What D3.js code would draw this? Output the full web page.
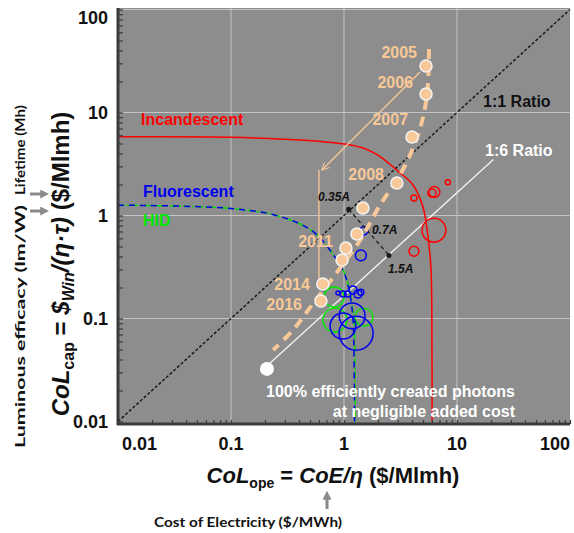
<!doctype html>
<html lang="en">
<head>
  <meta charset="utf-8">
  <title>Cost of light</title>
  <script src="https://cdn.jsdelivr.net/npm/d3@7/dist/d3.min.js"></script>
</head>
<body style="margin: 0; background: #fff;">
<script>
// ---- data ----
const tickValues = [0.01, 0.1, 1, 10, 100];
const tickLabels = ["0.01", "0.1", "1", "10", "100"];
const gridValues = [0.1, 1, 10];

// [CoL_ope, CoL_cap]
const incandescent = [[0.01, 5.8], [0.1, 5.75], [0.3, 5.5], [0.6, 5.25], [1, 4.95], [1.5, 4.5], [2.0, 3.85],
  [2.5, 3.2], [3.0, 2.7], [4.08, 1.98], [5.0, 1.21], [5.54, 0.62], [5.89, 0.3], [6.0, 0.06], [6.02, 0.01]];
const fluorescent = [[0.01, 1.26], [0.1, 1.17], [0.27, 0.98], [0.53, 0.70], [0.8, 0.42], [1.0, 0.28],
  [1.12, 0.18], [1.2, 0.1], [1.23, 0.03], [1.24, 0.01]];
const hid = [[0.01, 1.26], [0.1, 1.17], [0.27, 0.98], [0.53, 0.70], [0.8, 0.42], [1.02, 0.27],
  [1.14, 0.17], [1.22, 0.1], [1.25, 0.03], [1.26, 0.01]];

// LED points, years
const ledX = [5.32, 5.32, 4.0, 2.94, 1.47, 1.30, 1.04, 0.96, 0.65, 0.625];
const ledY = [28.3, 15.1, 5.78, 2.07, 1.18, 0.66, 0.483, 0.37, 0.216, 0.148];
const ledYears = ["2005", "2006", "2007", "2008", "", "", "2011", "", "2014", "2016"];
const ledTrend = [[5.65, 41.3], [5.43, 14.8], [4.52, 6.05], [3.13, 2.47], [2.08, 1.26], [1.39, 0.578],
  [0.83, 0.264], [0.52, 0.135], [0.354, 0.0773], [0.236, 0.0494]];
const ledArrow = [[4.71, 24.7], [0.638, 2.77]];
const ledDrop = [[0.60, 2.77], [0.60, 0.236]];

// bubbles [x, y, size]
const redBubbles = [[6.25, 0.72, 70], [4.16, 0.45, 29], [4.16, 1.48, 18], [6.0, 1.65, 24], [6.3, 1.69, 32], [8.3, 2.1, 15]];
const blueBubbles = [[1.50, 0.71, 24], [1.41, 0.41, 32], [0.885, 0.177, 12], [0.98, 0.173, 18], [1.08, 0.173, 18],
  [1.20, 0.189, 24], [1.33, 0.173, 24], [1.41, 0.18, 18], [1.18, 0.106, 76], [0.98, 0.0845, 76], [1.28, 0.072, 100]];
const greenBubbles = [[0.817, 0.162, 59], [0.83, 0.0967, 70], [1.50, 0.103, 53]];

const ideal = [0.208, 0.0324];
const ratio11 = [[0.01, 0.01], [100, 100]];
const ratio16 = [[0.21, 0.035], [21, 3.5]];
const ampLine = [[1.1, 1.15], [2.5, 0.41]];

// ---- drawing ----
const W = 574, H = 533;
const font = "'Liberation Sans', Arial, sans-serif";
const peach = "#f8c898";

const svg = d3.select("body").append("svg")
  .attr("width", W).attr("height", H)
  .style("font-family", font);

const x = d3.scaleLog().domain([0.01, 100]).range([118, 570]);
const y = d3.scaleLog().domain([0.01, 100]).range([421.5, 9.5]);
const rScale = d3.scaleLinear().domain([0, 100]).range([0, 17]);

const defs = svg.append("defs");
defs.append("marker").attr("id", "peachHead")
  .attr("viewBox", "0 -5 10 10").attr("refX", 9).attr("refY", 0)
  .attr("markerWidth", 8).attr("markerHeight", 8).attr("markerUnits", "userSpaceOnUse")
  .attr("orient", "auto")
  .append("path").attr("d", "M0,-4.5L9,0L0,4.5").attr("fill", "none")
  .attr("stroke", peach).attr("stroke-width", 1.3);
defs.append("marker").attr("id", "grayHead")
  .attr("viewBox", "0 -5 10 10").attr("refX", 2).attr("refY", 0)
  .attr("markerWidth", 3).attr("markerHeight", 3)
  .attr("orient", "auto")
  .append("path").attr("d", "M0,-5L10,0L0,5Z").attr("fill", "#8a8a8a");

// plot background
svg.append("rect")
  .attr("x", 118).attr("y", 8).attr("width", 452).attr("height", 416)
  .attr("fill", "#8d8d8d");

// grid
svg.append("g").selectAll("line").data(gridValues).join("line")
  .attr("x1", d => x(d)).attr("x2", d => x(d)).attr("y1", 8).attr("y2", 424)
  .attr("stroke", "#c4c4c4").attr("stroke-width", 1);
svg.append("g").selectAll("line").data(gridValues.concat([100])).join("line")
  .attr("y1", d => y(d)).attr("y2", d => y(d)).attr("x1", 118).attr("x2", 570)
  .attr("stroke", "#c4c4c4").attr("stroke-width", 1);

const line = d3.line().x(d => x(d[0])).y(d => y(d[1]));
const smooth = d3.line().x(d => x(d[0])).y(d => y(d[1])).curve(d3.curveCatmullRom.alpha(0.5));

// 1:1 and 1:6 ratio lines
svg.append("path").attr("d", line(ratio11)).attr("fill", "none")
  .attr("stroke", "#1a1a1a").attr("stroke-width", 1.5).attr("stroke-dasharray", "3,2");
svg.append("path").attr("d", line(ratio16)).attr("fill", "none")
  .attr("stroke", "#f2f2f2").attr("stroke-width", 1.4);

// lamp curves
svg.append("path").attr("d", smooth(incandescent)).attr("fill", "none")
  .attr("stroke", "#ff0000").attr("stroke-width", 1.5);
svg.append("path").attr("d", smooth(hid)).attr("fill", "none")
  .attr("stroke", "#00e000").attr("stroke-width", 1.5).attr("stroke-dasharray", "7,2,2,2");
svg.append("path").attr("d", smooth(fluorescent)).attr("fill", "none")
  .attr("stroke", "#0000e6").attr("stroke-width", 1.5).attr("stroke-dasharray", "6,5");

// bubbles
function bubbles(data, color) {
  svg.append("g").selectAll("circle").data(data).join("circle")
    .attr("cx", d => x(d[0])).attr("cy", d => y(d[1])).attr("r", d => rScale(d[2]))
    .attr("fill", "none").attr("stroke", color).attr("stroke-width", 1.5);
}
bubbles(redBubbles, "#ff0000");
bubbles(greenBubbles, "#00e600");
bubbles(blueBubbles, "#0000ee");

// amp line
svg.append("path").attr("d", line(ampLine)).attr("fill", "none")
  .attr("stroke", "#1a1a1a").attr("stroke-width", 1.3).attr("stroke-dasharray", "4,3");
svg.append("g").selectAll("circle").data(ampLine).join("circle")
  .attr("cx", d => x(d[0])).attr("cy", d => y(d[1])).attr("r", 2.5).attr("fill", "#1a1a1a");

// LED trend + arrow
svg.append("path").attr("d", smooth(ledTrend)).attr("fill", "none")
  .attr("stroke", peach).attr("stroke-width", 4).attr("stroke-dasharray", "10,7");
svg.append("path").attr("d", line(ledArrow)).attr("fill", "none")
  .attr("stroke", peach).attr("stroke-width", 1.3).attr("marker-end", "url(#peachHead)");
svg.append("path").attr("d", line(ledDrop)).attr("fill", "none")
  .attr("stroke", peach).attr("stroke-width", 1.3);

// LED points
svg.append("g").selectAll("circle").data(ledX).join("circle")
  .attr("cx", d => x(d)).attr("cy", (d, i) => y(ledY[i])).attr("r", 6)
  .attr("fill", peach).attr("stroke", "#f4f4f4").attr("stroke-width", 1.5);

svg.append("circle").attr("cx", x(ideal[0])).attr("cy", y(ideal[1])).attr("r", 7)
  .attr("fill", "#fff");

// year labels
const yearOffset = [[-9, -8], [-13, -6], [-4, -12], [-13, -3], null, null, [-13, -1], null, [-13, 6], [-19, 9]];
ledYears.forEach((t, i) => {
  if (!t) return;
  svg.append("text").attr("x", x(ledX[i]) + yearOffset[i][0]).attr("y", y(ledY[i]) + yearOffset[i][1])
    .attr("text-anchor", "end").attr("font-size", 16).attr("font-weight", "bold")
    .attr("fill", peach).text(t);
});

// axes
const yAxis = svg.append("g").attr("transform", "translate(118,0)")
  .call(d3.axisLeft(y).tickValues(y.ticks()).tickSize(-5).tickSizeOuter(0).tickFormat(""));
const xAxis = svg.append("g").attr("transform", "translate(0,424)")
  .call(d3.axisBottom(x).tickValues(x.ticks()).tickSize(-4).tickSizeOuter(0).tickFormat(""));
[xAxis, yAxis].forEach(a => {
  a.select(".domain").attr("stroke", "#3a3a3a").attr("stroke-width", 3);
  a.selectAll(".tick line").attr("stroke", "#3a3a3a").attr("stroke-width", 1.2);
});
yAxis.select(".domain").attr("d", "M0,8V425");
xAxis.select(".domain").attr("d", "M117,0H570");

// tick labels
svg.append("g").selectAll("text").data(tickValues).join("text")
  .attr("x", (d, i) => i === 0 ? x(d) + 4 : x(d))
  .attr("y", 450)
  .attr("text-anchor", (d, i) => i === 0 ? "start" : i === 4 ? "end" : "middle")
  .attr("font-size", 18).attr("font-weight", "bold").attr("fill", "#111")
  .text((d, i) => tickLabels[i]);
svg.append("g").selectAll("text").data(tickValues).join("text")
  .attr("x", 108)
  .attr("y", d => Math.max(y(d), 18) + 6)
  .attr("text-anchor", "end")
  .attr("font-size", 18).attr("font-weight", "bold").attr("fill", "#111")
  .text((d, i) => tickLabels[i]);

// annotations
function note(p, txt, opts) {
  svg.append("text").attr("x", x(p[0])).attr("y", y(p[1]))
    .attr("text-anchor", opts.anchor || "start")
    .attr("font-size", opts.size || 16).attr("font-weight", "bold")
    .attr("font-style", opts.italic ? "italic" : "normal")
    .attr("fill", opts.color).text(txt);
}
note([0.016, 7.56], "Incandescent", {color: "#ff0000", size: 16});
note([0.01665, 1.51], "Fluorescent", {color: "#0000ee", size: 16});
note([0.01665, 0.79], "HID", {color: "#00e600", size: 16});
note([17.0, 11.3], "1:1 Ratio", {color: "#111", size: 16});
note([17.7, 3.78], "1:6 Ratio", {color: "#fff", size: 16});
note([0.589, 1.38], "0.35A", {color: "#111", size: 12, italic: true});
note([1.77, 0.66], "0.7A", {color: "#111", size: 12, italic: true});
note([2.45, 0.277], "1.5A", {color: "#111", size: 12, italic: true});
note([32.6, 0.0173], "100% efficiently created photons", {color: "#fff", size: 16, anchor: "end"});
note([32.6, 0.0111], "at negligible added cost", {color: "#fff", size: 16, anchor: "end"});

// axis titles
const xt = svg.append("text").attr("x", 333).attr("y", 483).attr("text-anchor", "middle")
  .attr("font-size", 22).attr("font-weight", "bold").attr("fill", "#111");
xt.append("tspan").attr("font-style", "italic").text("CoL");
xt.append("tspan").attr("font-size", 14).attr("dy", 5).text("ope");
xt.append("tspan").attr("dy", -5).text(" = ");
xt.append("tspan").attr("font-style", "italic").text("CoE/η");
xt.append("tspan").text(" ($/Mlmh)");

const yt = svg.append("text").attr("transform", "translate(69,264) rotate(-90)").attr("text-anchor", "middle")
  .attr("font-size", 24).attr("font-weight", "bold").attr("fill", "#111");
yt.append("tspan").attr("font-style", "italic").text("CoL");
yt.append("tspan").attr("font-size", 16).attr("dy", 5).text("cap");
yt.append("tspan").attr("dy", -5).text(" = ");
yt.append("tspan").attr("font-style", "italic").text("$");
yt.append("tspan").attr("font-style", "italic").attr("font-size", 16).attr("dy", 5).text("Win");
yt.append("tspan").attr("font-style", "italic").attr("dy", -5).text("/(η·τ)");
yt.append("tspan").text(" ($/Mlmh)");

// small notes with gray arrows
const small = "Lato, 'Open Sans', sans-serif";
svg.append("text").attr("transform", "translate(25,448) rotate(-90)")
  .attr("font-family", small).attr("font-size", 13).attr("font-weight", "bold").attr("fill", "#111")
  .attr("textLength", 243).attr("lengthAdjust", "spacingAndGlyphs")
  .text("Luminous efficacy (lm/W)");
svg.append("text").attr("transform", "translate(25,195) rotate(-90)")
  .attr("font-family", small).attr("font-size", 13).attr("font-weight", "bold").attr("fill", "#111")
  .attr("textLength", 90).attr("lengthAdjust", "spacingAndGlyphs")
  .text("Lifetime (Mh)");
svg.append("text").attr("x", 154).attr("y", 527)
  .attr("font-family", small).attr("font-size", 13).attr("font-weight", "bold").attr("fill", "#111")
  .attr("textLength", 188).attr("lengthAdjust", "spacingAndGlyphs")
  .text("Cost of Electricity ($/MWh)");

[[30, 194, 42, 194], [30, 211, 42, 211], [327, 509, 327, 498]].forEach(a => {
  svg.append("line").attr("x1", a[0]).attr("y1", a[1]).attr("x2", a[2]).attr("y2", a[3])
    .attr("stroke", "#8a8a8a").attr("stroke-width", 3).attr("marker-end", "url(#grayHead)");
});
</script>
</body>
</html>
